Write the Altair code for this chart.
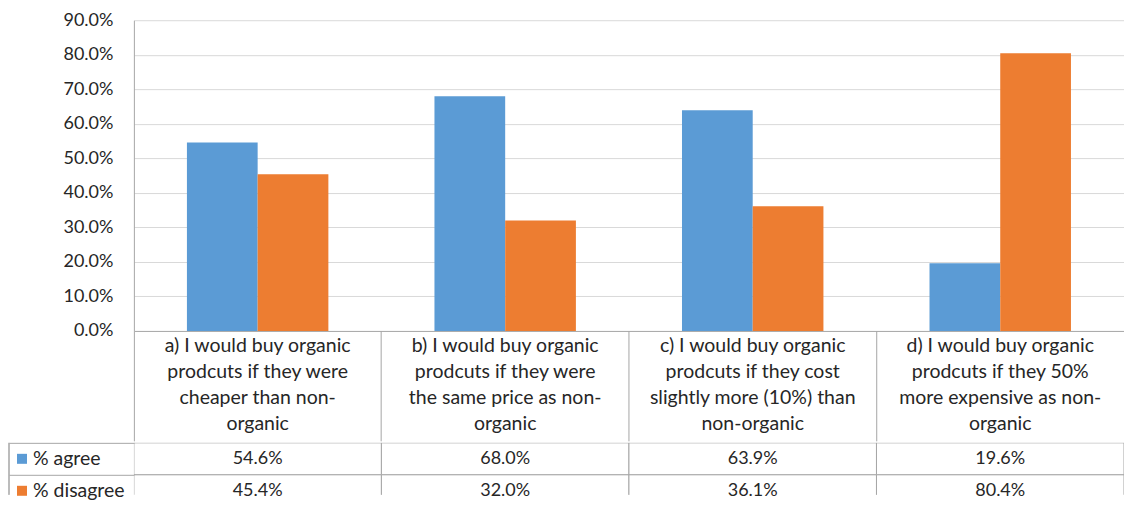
import altair as alt
import pandas as pd

categories = [
    "a) I would buy organic|prodcuts if they were|cheaper than non-|organic",
    "b) I would buy organic|prodcuts if they were|the same price as  non-|organic",
    "c) I would buy organic|prodcuts if they cost|slightly more (10%) than|non-organic",
    "d) I would buy organic|prodcuts if they 50%|more expensive as non-|organic",
]
series = ["% agree", "% disagree"]
agree = [0.546, 0.680, 0.639, 0.196]
disagree = [0.454, 0.320, 0.361, 0.804]
colors = ["#5B9BD5", "#ED7D31"]
y_ticks = [0.0, 0.1, 0.2, 0.3, 0.4, 0.5, 0.6, 0.7, 0.8, 0.9]

rows = []
for i, c in enumerate(categories):
    rows.append({"category": c, "series": series[0], "value": agree[i]})
    rows.append({"category": c, "series": series[1], "value": disagree[i]})
df = pd.DataFrame(rows)
legend_df = pd.DataFrame({"series": series})

FONT = "Lato"
FS = 18
FL = 19.5
GRID = "#d9d9d9"
BORDER = "#a6a6a6"
TXT = "#262626"
W = 991
LAB = 110
TH = 52

xscale = alt.Scale(domain=categories, paddingInner=0, paddingOuter=0)
color = alt.Color("series:N", scale=alt.Scale(domain=series, range=colors), legend=None)

bars = alt.Chart(df).mark_bar().encode(
    x=alt.X("category:N", scale=xscale, sort=categories,
            axis=alt.Axis(title=None, labelAngle=0, bandPosition=0, tickSize=LAB,
                          tickColor=BORDER, domain=False, grid=False,
                          labelPadding=6 - LAB, labelBaseline="top", labelAlign="center",
                          labelExpr="split(datum.label, '|')", labelLineHeight=26,
                          labelLimit=0, labelFontSize=FL, labelColor=TXT, labelFont=FONT)),
    xOffset=alt.XOffset("series:N", scale=alt.Scale(domain=series, paddingOuter=0.75, paddingInner=0)),
    y=alt.Y("value:Q", scale=alt.Scale(domain=[0, 0.9]),
            axis=alt.Axis(title=None, format=".1%", values=y_ticks, labelOverlap=False,
                          ticks=False, labelPadding=21, domainColor=BORDER,
                          gridColor={"condition": {"test": "datum.value === 0", "value": BORDER}, "value": GRID},
                          labelFontSize=FS, labelColor=TXT, labelFont=FONT)),
    color=color,
).properties(width=W, height=311)

yscale = alt.Scale(domain=series, range=[0, 64], paddingInner=0, paddingOuter=0)
xcat = alt.X("category:N", scale=xscale, sort=categories, axis=None)

cells = alt.Chart(df).mark_rect(fill="white", stroke=BORDER, strokeWidth=1, clip=True).encode(
    x=xcat,
    y=alt.Y("series:N", scale=yscale,
            axis=alt.Axis(title=None, labels=False, domain=False, grid=False, bandPosition=0,
                          tickSize=125, tickColor=BORDER)),
)
vals = alt.Chart(df).mark_text(fontSize=FS, font=FONT, color=TXT).encode(
    x=xcat,
    y=alt.Y("series:N", scale=yscale),
    text=alt.Text("value:Q", format=".1%"),
)
left_border = alt.Chart(legend_df).mark_rule(color=BORDER, strokeWidth=1).encode(
    x=alt.value(-125), y=alt.value(0), y2=alt.value(TH),
)
leg_sq = alt.Chart(legend_df).mark_square(size=100, opacity=1, filled=True).encode(
    x=alt.value(-112), y=alt.Y("series:N", scale=yscale), color=color,
)
leg_txt = alt.Chart(legend_df).mark_text(fontSize=FL, font=FONT, color=TXT, align="left").encode(
    x=alt.value(-101), y=alt.Y("series:N", scale=yscale), text="series:N",
)
table = alt.layer(cells, vals, left_border, leg_sq, leg_txt).properties(width=W, height=TH)

chart = alt.vconcat(bars, table, spacing=0).properties(
    padding={"top": 3, "left": 0, "right": 0, "bottom": 0}
).configure(font=FONT).configure_view(stroke="transparent", strokeWidth=0)

chart.save("out.html", embed_options={"renderer": "svg", "actions": False})
